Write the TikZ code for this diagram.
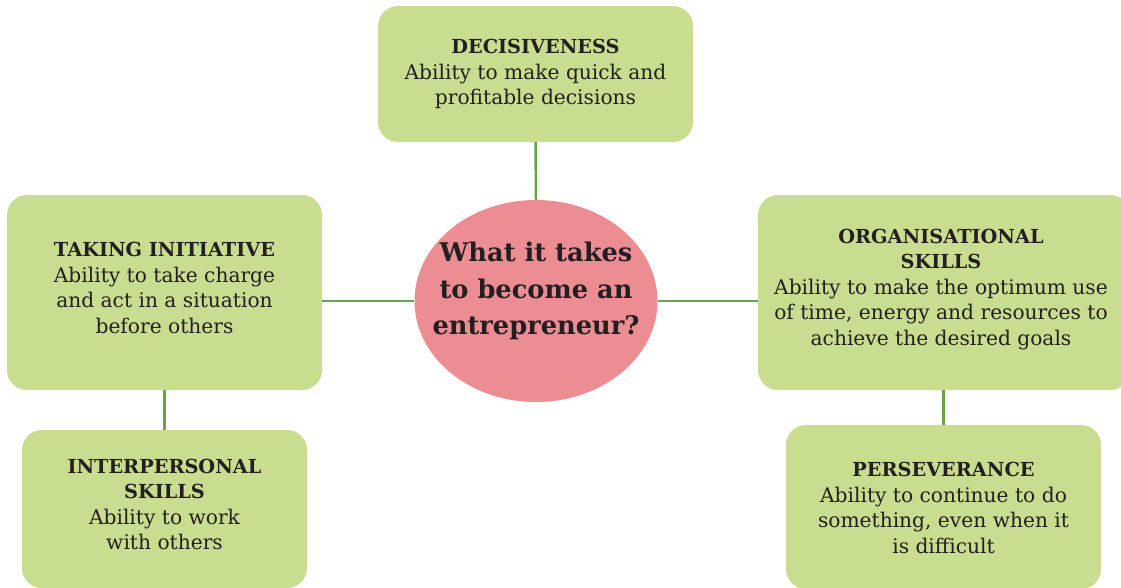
\documentclass[tikz,border=0pt]{standalone}
\usepackage{fontspec}
\setmainfont{DejaVu Serif}
\usetikzlibrary{shapes.geometric}
\definecolor{boxgreen}{HTML}{C8DD8F}
\definecolor{linegreen}{HTML}{64A646}
\definecolor{pinkfill}{HTML}{EC8C93}
\definecolor{txt}{HTML}{231F20}
\newcommand{\hd}[1]{{\bfseries\fontsize{19.3}{25.5}\selectfont #1}}
\tikzset{
  skillbox/.style={rectangle, rounded corners=20pt, fill=boxgreen, draw=none, inner sep=0pt},
  skilltext/.style={align=center, text=txt, inner sep=0pt,
    font=\fontsize{20.2}{25.5}\selectfont},
  hub/.style={ellipse, fill=pinkfill, draw=none, inner sep=0pt},
  hubtext/.style={align=center, text=txt, inner sep=0pt,
    font=\bfseries\fontsize{25.7}{36.5}\selectfont},
  link/.style={draw=linegreen, line width=2.5pt}
}
\begin{document}
\begin{tikzpicture}[x=1pt,y=-1pt]
\useasboundingbox (0,0) rectangle (1121,587);
\begin{scope}
\clip (0,0) rectangle (1121,587);
\node[hub, minimum width=243pt, minimum height=202pt] (c) at (536,301) {};
\node[hubtext] (ct) at (536,291) {What it takes\\to become an\\entrepreneur?};
\node[skillbox, minimum width=315pt, minimum height=136pt] (top) at (535.5,74) {};
\node[skilltext] (topt) at (535.5,74)
  {\hd{DECISIVENESS}\\Ability to make quick and\\profitable decisions};
\node[skillbox, minimum width=315pt, minimum height=195pt] (lt) at (164.5,292.5) {};
\node[skilltext] (ltt) at (164.5,288)
  {\hd{TAKING INITIATIVE}\\Ability to take charge\\and act in a situation\\before others};
\node[skillbox, minimum width=372pt, minimum height=195pt] (rt) at (944,292.5) {};
\node[skilltext] (rtt) at (941,289.5)
  {\hd{ORGANISATIONAL}\\\hd{SKILLS}\\Ability to make the optimum use\\of time, energy and resources to\\achieve the desired goals};
\node[skillbox, minimum width=285pt, minimum height=158pt] (lb) at (164.5,509) {};
\node[skilltext] (lbt) at (164.5,504.5)
  {\hd{INTERPERSONAL}\\\hd{SKILLS}\\Ability to work\\with others};
\node[skillbox, minimum width=315pt, minimum height=164pt] (rb) at (943.5,507) {};
\node[skilltext] (rbt) at (943.5,508)
  {\hd{PERSEVERANCE}\\Ability to continue to do\\something, even when it\\is difficult};
\draw[link] (top.south) -- (c.north);
\draw[link] (lt.east |- c.west) -- (c.west);
\draw[link] (c.east) -- (rt.west |- c.east);
\draw[link] (lt.south) -- (lb.north);
\draw[link] (rt.south -| rb.north) -- (rb.north);
\end{scope}
\end{tikzpicture}
\end{document}
